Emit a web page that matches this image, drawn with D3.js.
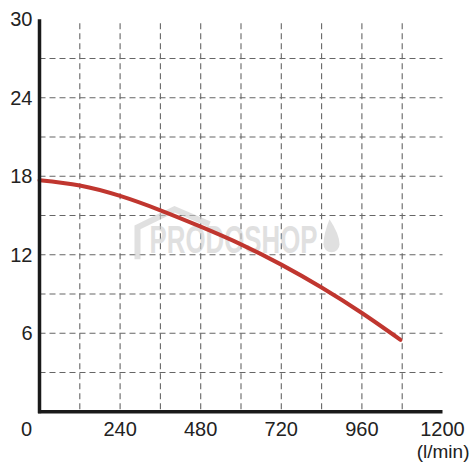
<!DOCTYPE html>
<html>
<head>
<meta charset="utf-8">
<script src="https://cdn.jsdelivr.net/npm/d3@7"></script>
<style>
  body { margin: 0; background: #fff; }
  text { font-family: "Liberation Sans", Arial, sans-serif; fill: #222; }
</style>
</head>
<body>
<div id="chart"></div>
<script>
// pump curve, flow (l/min) vs head (m)
var flow = [0, 120, 240, 360, 480, 600, 720, 840, 960, 1075];
var head = [17.7, 17.3, 16.5, 15.4, 14.15, 12.8, 11.25, 9.5, 7.55, 5.5];

var xTicks = [240, 480, 720, 960, 1200];
var yTicks = [6, 12, 18, 24, 30];
var xGrid = [120, 240, 360, 480, 600, 720, 840, 960, 1080];
var yGrid = [3, 6, 9, 12, 15, 18, 21, 24, 27];

window.onload = function(){
    drawChart();
};

function drawChart(){
    var svg = d3.select("#chart").append("svg").attr("width", 475).attr("height", 475);

    var margin = {top: 19.3, left: 39.5, right: 32.5, bottom: 63.2};
    var w = 475 - margin.left - margin.right;
    var h = 475 - margin.top - margin.bottom;
    var g = svg.append("g").attr("transform", "translate(" + margin.left + "," + margin.top + ")");

    var xScale = d3.scaleLinear().domain([0, 1200]).range([0, w]);
    var yScale = d3.scaleLinear().domain([0, 30]).range([h, 0]);

    // dashed grid
    g.selectAll(".vgrid")
        .data(xGrid)
        .enter()
        .append("line")
        .attr("x1", function(d){ return xScale(d); })
        .attr("x2", function(d){ return xScale(d); })
        .attr("y1", yScale(29.7))
        .attr("y2", h)
        .attr("stroke", "#666")
        .attr("stroke-width", 1.1)
        .attr("stroke-dasharray", "6,4");

    g.selectAll(".hgrid")
        .data(yGrid)
        .enter()
        .append("line")
        .attr("x1", 0)
        .attr("x2", xScale(1200))
        .attr("y1", function(d){ return yScale(d); })
        .attr("y2", function(d){ return yScale(d); })
        .attr("stroke", "#666")
        .attr("stroke-width", 1.1)
        .attr("stroke-dasharray", "6,4");

    // watermark
    var wm = g.append("g").attr("opacity", 0.6);
    wm.append("path")
        .attr("d", "M98,240 L98,208 L135,190 L170,205")
        .attr("fill", "none")
        .attr("stroke", "#ccc")
        .attr("stroke-width", 6);
    wm.append("text")
        .attr("x", 110)
        .attr("y", 234)
        .attr("textLength", 168)
        .attr("lengthAdjust", "spacingAndGlyphs")
        .style("font-size", "38px")
        .style("font-weight", "bold")
        .style("fill", "#ccc")
        .text("PRODOSHOP");
    wm.append("path")
        .attr("d", "M290,200 Q284,215 284,225 A8,8 0 0 0 300,225 Q300,215 290,200 Z")
        .attr("fill", "#ccc");

    // curve
    var line = d3.line()
        .x(function(d, i){ return xScale(flow[i]); })
        .y(function(d){ return yScale(d); })
        .curve(d3.curveNatural);

    g.append("path")
        .datum(head)
        .attr("d", line)
        .attr("fill", "none")
        .attr("stroke", "#c0362f")
        .attr("stroke-width", 4)
        .attr("stroke-linecap", "round");

    // axes lines
    g.append("line")
        .attr("x1", 0).attr("x2", 0)
        .attr("y1", yScale(30)).attr("y2", h + 1.5)
        .attr("stroke", "#1a1a1a")
        .attr("stroke-width", 3.5);
    g.append("line")
        .attr("x1", -1.5).attr("x2", xScale(1200))
        .attr("y1", h).attr("y2", h)
        .attr("stroke", "#1a1a1a")
        .attr("stroke-width", 3.5);

    // tick labels
    g.selectAll(".ylab")
        .data(yTicks)
        .enter()
        .append("text")
        .attr("x", -7)
        .attr("y", function(d){ return yScale(d); })
        .attr("dy", "0.35em")
        .style("text-anchor", "end")
        .style("font-size", "20px")
        .text(function(d){ return d; });

    g.selectAll(".xlab")
        .data(xTicks)
        .enter()
        .append("text")
        .attr("x", function(d){ return xScale(d); })
        .attr("y", h + 24)
        .style("text-anchor", "middle")
        .style("font-size", "20px")
        .text(function(d){ return d; });

    g.append("text")
        .attr("x", -13)
        .attr("y", h + 24)
        .style("text-anchor", "middle")
        .style("font-size", "20px")
        .text("0");

    g.append("text")
        .attr("x", xScale(1200) + 27)
        .attr("y", h + 46)
        .style("text-anchor", "end")
        .style("font-size", "19px")
        .text("(l/min)");
}
</script>
</body>
</html>
